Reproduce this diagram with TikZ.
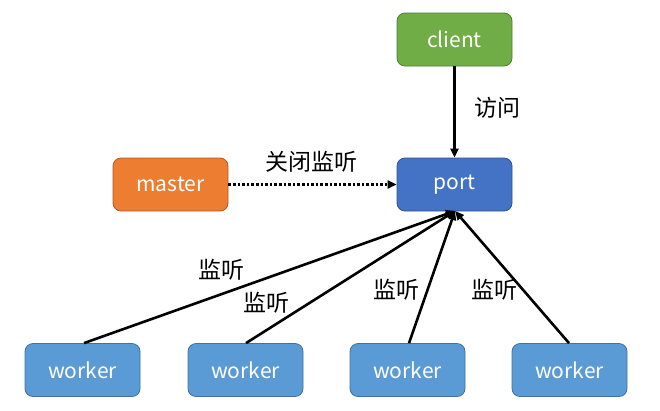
\documentclass[tikz,border=0pt]{standalone}
\usepackage{fontspec}
\setmainfont{Noto Sans CJK SC}
\usetikzlibrary{arrows.meta}
\definecolor{cgreen}{HTML}{70AD47}
\definecolor{cgreenb}{HTML}{507E32}
\definecolor{cport}{HTML}{4472C4}
\definecolor{cportb}{HTML}{2F528F}
\definecolor{cmaster}{HTML}{ED7D31}
\definecolor{cmasterb}{HTML}{AE5A21}
\definecolor{cworker}{HTML}{5B9BD5}
\definecolor{cworkerb}{HTML}{41719C}
\begin{document}
\begin{tikzpicture}[x=1pt,y=-1pt,
  box/.style={rounded corners=8pt, minimum width=115pt, minimum height=53pt, inner sep=0pt, text=white, font=\fontsize{21}{24}\selectfont, line width=0.8pt},
  lbl/.style={font=\fontsize{23}{26}\selectfont, text=black, inner sep=0pt},
  arr/.style={line width=2.6pt, -{Triangle[length=9pt,width=8pt]}}
]
\useasboundingbox (0,0) rectangle (660,410);
\node[box, fill=cgreen, draw=cgreenb] (client) at (454.5,39.5) {client};
\node[box, fill=cport, draw=cportb] (port) at (454.5,184.5) {port};
\node[box, fill=cmaster, draw=cmasterb] (master) at (170.5,184.5) {master};
\node[box, fill=cworker, draw=cworkerb] (w1) at (82.5,370) {worker};
\node[box, fill=cworker, draw=cworkerb] (w2) at (245.5,370) {worker};
\node[box, fill=cworker, draw=cworkerb] (w3) at (407.5,370) {worker};
\node[box, fill=cworker, draw=cworkerb] (w4) at (569.5,370) {worker};
\coordinate (pb) at (455,211);
\draw[arr] (client.south) -- (port.north);
\draw[arr, dotted] (master.east) -- (port.west);
\draw[arr] ([xshift=1.5pt]w1.north) -- (pb);
\draw[arr] ([xshift=0.5pt]w2.north) -- (pb);
\draw[arr] ([xshift=1.5pt]w3.north) -- (pb);
\draw[arr] ([xshift=-0.5pt]w4.north) -- (pb);
\node[lbl] (l0) at (497,108) {访问};
\node[lbl] (l1) at (311,162) {关闭监听};
\node[lbl] (l2) at (221,270) {监听};
\node[lbl] (l3) at (266,303) {监听};
\node[lbl] (l4) at (396,290) {监听};
\node[lbl] (l5) at (494,290) {监听};
\end{tikzpicture}
\end{document}
